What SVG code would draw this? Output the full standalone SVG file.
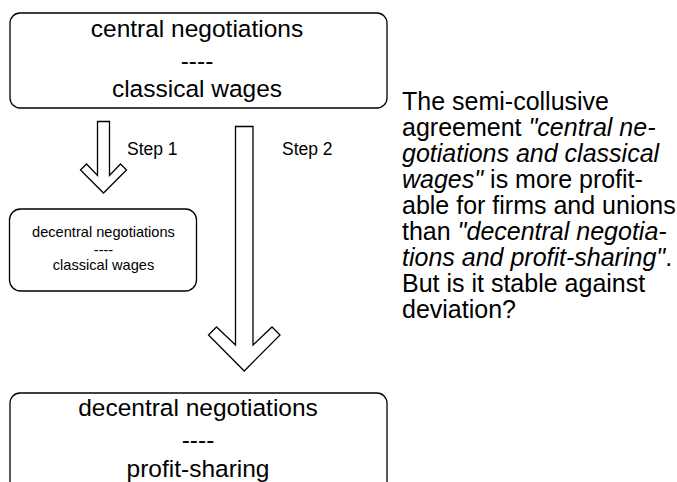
<svg xmlns="http://www.w3.org/2000/svg" width="677" height="482" viewBox="0 0 677 482">
<style>
.box{fill:#fff;stroke:#000;stroke-width:1.3}
.arr{fill:#fff;stroke:#000;stroke-width:1.3;stroke-linejoin:miter}
text{font-family:"Liberation Sans",Arial,sans-serif;fill:#000}
.big{font-size:24.5px;text-anchor:middle}
.small{font-size:14.6px;text-anchor:middle}
.step{font-size:17.5px}
.para{font-size:25px}
.it{font-style:italic}
</style>
<rect width="677" height="482" fill="#fff"/>
<g id="connectors">
<g id="step1">
<path class="arr" d="M97.5,121.5 H109.5 V175.5 L120.5,164 L126.5,170 L103.5,193 L80.5,170 L86.5,164 L97.5,175.5 Z"/>
<text class="step" x="127" y="155">Step 1</text>
</g>
<g id="step2">
<path class="arr" d="M235.5,126.5 H253 V345 L272,327 L280,335 L244.25,371 L208.5,335 L216.5,327 L235.5,345 Z"/>
<text class="step" x="282" y="155">Step 2</text>
</g>
</g>
<g id="node-central">
<rect class="box" x="10" y="13" width="377" height="95" rx="10"/>
<text class="big" x="197" y="37">central negotiations</text>
<text class="big" x="197" y="69">----</text>
<text class="big" x="197" y="97">classical wages</text>
</g>
<g id="node-decentral-classical">
<rect class="box" x="9.5" y="209" width="187" height="82" rx="11"/>
<text class="small" x="103.5" y="237">decentral negotiations</text>
<text class="small" x="103.5" y="255">----</text>
<text class="small" x="103.5" y="270">classical wages</text>
</g>
<g id="node-decentral-profit">
<rect class="box" x="10" y="393" width="377" height="110" rx="10"/>
<text class="big" x="198" y="416">decentral negotiations</text>
<text class="big" x="198" y="448">----</text>
<text class="big" x="198" y="477">profit-sharing</text>
</g>
<g id="note">
<text class="para" x="402" y="110">The semi-collusive</text>
<text class="para" x="402" y="136">agreement <tspan class="it">"central ne-</tspan></text>
<text class="para it" x="402" y="162">gotiations and classical</text>
<text class="para" x="402" y="188"><tspan class="it">wages"</tspan> is more profit-</text>
<text class="para" x="402" y="214">able for firms and unions</text>
<text class="para" x="402" y="240">than <tspan class="it">"decentral negotia-</tspan></text>
<text class="para" x="402" y="266"><tspan class="it">tions and profit-sharing"</tspan>.</text>
<text class="para" x="402" y="292">But is it stable against</text>
<text class="para" x="402" y="318">deviation?</text>
</g>
</svg>
